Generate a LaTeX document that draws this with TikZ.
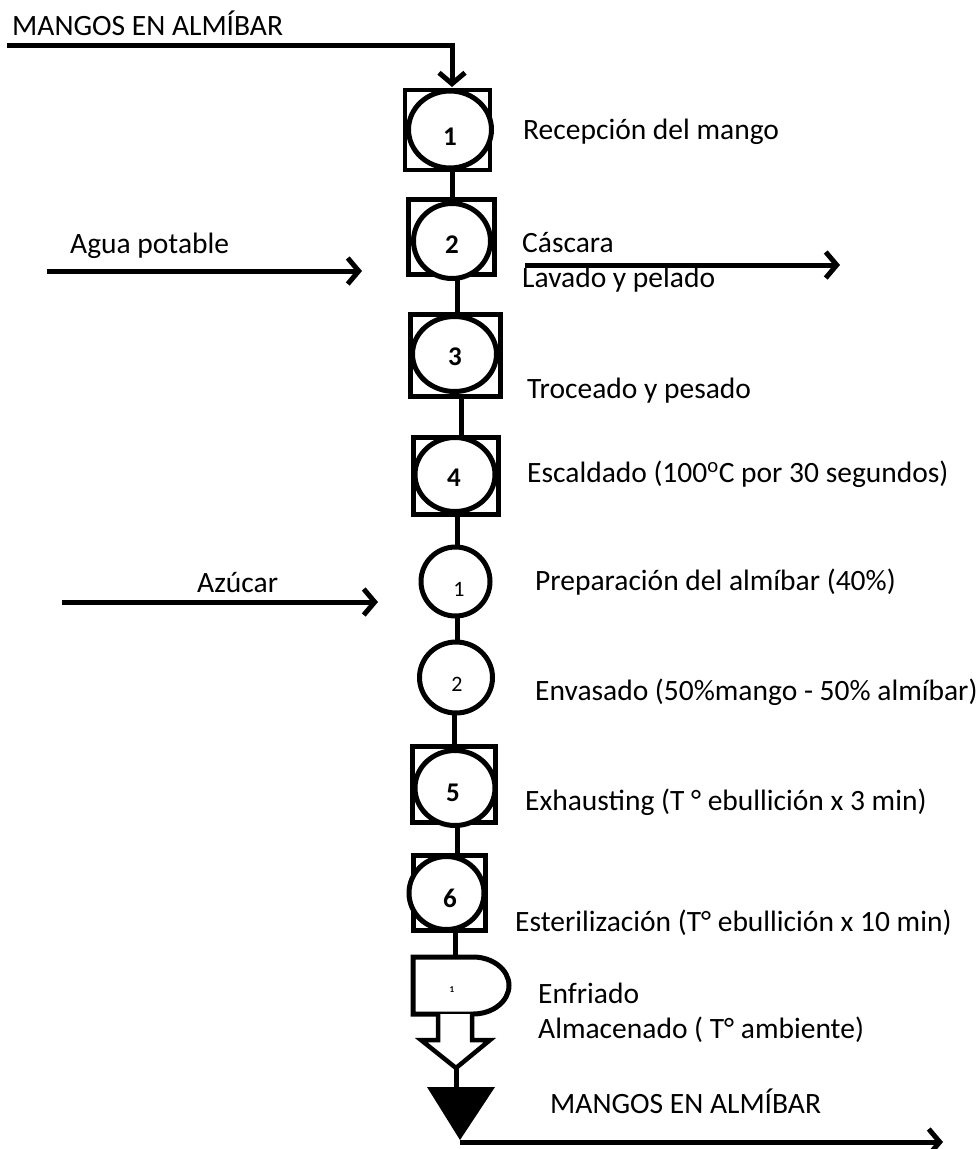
\documentclass[tikz,border=0pt]{standalone}
\usepackage{fontspec}
\setmainfont{Carlito}
\usetikzlibrary{arrows.meta,shapes.geometric}
\begin{document}
\begin{tikzpicture}[x=1pt,y=-1pt,
  box/.style={draw,rectangle,line width=4.5pt,inner sep=0pt},
  circ/.style={draw,line width=5pt,fill=white},
  num/.style={inner sep=0pt,font=\fontsize{27}{30}\selectfont\bfseries},
  snum/.style={inner sep=0pt,font=\fontsize{22}{26}\selectfont},
  txt/.style={anchor=base west,inner sep=0pt,font=\fontsize{29.5}{34}\selectfont},
  flow/.style={line width=5pt,-{Straight Barb[length=11pt,width=26pt]}},
  link/.style={line width=5pt},
]
\useasboundingbox (0,0) rectangle (980,1149);

% connector x positions
\coordinate (k12) at (452,0);
\coordinate (k23) at (457,0);
\coordinate (k34) at (461,0);
\coordinate (k4a) at (457,0);
\coordinate (kab) at (457,0);
\coordinate (kb5) at (454,0);
\coordinate (k56) at (457,0);
\coordinate (k6d) at (455,0);

% operation/inspection boxes
\node[box,minimum width=85pt,minimum height=80pt] (b1) at (447.5,130) {};
\node[box,minimum width=86pt,minimum height=75pt] (b2) at (451.5,237) {};
\node[box,minimum width=90pt,minimum height=82pt] (b3) at (455.5,355.5) {};
\node[box,minimum width=85pt,minimum height=77pt] (b4) at (456,476) {};
\node[box,minimum width=83pt,minimum height=76pt] (b5) at (454,784.5) {};
\node[box,minimum width=72pt,minimum height=75pt] (b6) at (449.5,893) {};

% circle centres
\coordinate (c1) at (450,129.5);
\coordinate (c2) at (452,241);
\coordinate (c3) at (454.5,354);
\coordinate (c4) at (455,474.5);
\coordinate (pa) at (455.5,581.5);
\coordinate (pb) at (456,677.5);
\coordinate (c5) at (455,788);
\coordinate (c6) at (446.5,893);

% connectors
\draw[link] (b1.south -| k12) -- (b2.north -| k12);
\draw[link] (b2.south -| k23) -- (b3.north -| k23);
\draw[link] (b3.south -| k34) -- (b4.north -| k34);
\draw[link] (b4.south -| k4a) -- ([yshift=-36pt]pa -| k4a);
\draw[link] ([yshift=36pt]pa -| kab) -- ([yshift=-36pt]pb -| kab);
\draw[link] ([yshift=36pt]pb -| kb5) -- (b5.north -| kb5);
\draw[link] (b5.south -| k56) -- (b6.north -| k56);

% circles
\draw[circ] (c1) ellipse [x radius=41.5, y radius=38.5];
\draw[circ] (c2) ellipse [x radius=38.5, y radius=37.5];
\draw[circ] (c3) ellipse [x radius=42, y radius=37.5];
\draw[circ] (c4) ellipse [x radius=40, y radius=37];
\draw[circ] (pa) ellipse [x radius=34.5, y radius=34.5];
\draw[circ] (pb) ellipse [x radius=36.5, y radius=35.5];
\draw[circ] (c5) ellipse [x radius=40, y radius=37.5];
\draw[circ] (c6) ellipse [x radius=37.5, y radius=36.5];

% numbers
\node[num] (n1) at (450,137) {1};
\node[num] (n2) at (452,245) {2};
\node[num] (n3) at (455,357) {3};
\node[num] (n4) at (454,478) {4};
\node[snum] (na) at (459,589) {1};
\node[snum] (nb) at (457,684) {2};
\node[num] (n5) at (453,793) {5};
\node[num] (n6) at (450,898) {6};

% storage (D shape)
\coordinate (dtop) at (455,957);
\draw[link] (b6.south -| k6d) -- (dtop);
\draw[line width=5pt,fill=white,line join=miter] (413,957) -- (473,957)
  arc[start angle=-90,end angle=90,x radius=36,y radius=28.5] -- (413,1014) -- cycle;
\node[inner sep=0pt,font=\fontsize{9}{9}\selectfont\bfseries] (nd) at (452,990) {1};

% hollow arrow
\coordinate (htip) at (456,1068);
\draw[line width=4.5pt,fill=white,line join=miter] (438,1014) -- (438,1040) -- (421,1040) -- (htip)
  -- (490,1040) -- (472,1040) -- (472,1014);

% final triangle
\coordinate (ttop) at (456,1089);
\coordinate (tt) at (460,1140);
\draw[link] (htip) -- (ttop);
\fill[black] (427,1087) -- (495,1087) -- (tt) -- cycle;
\coordinate (out1) at (943,1142);
\draw[flow] (tt |- out1) -- (out1);

% inputs / outputs
\coordinate (in0) at (7,45);
\coordinate (in1) at (452,87);
\draw[flow,line join=miter] (in0) -| (in1);
\coordinate (a0) at (47,271);
\coordinate (a1) at (362,271);
\draw[flow] (a0) -- (a1);
\coordinate (s0) at (525,265);
\coordinate (s1) at (840,265);
\draw[flow] (s0) -- (s1);
\coordinate (z0) at (62,602);
\coordinate (z1) at (378,602);
\draw[flow] (z0) -- (z1);

% texts
\node[txt] (t0) at (12,35) {MANGOS EN ALMÍBAR};
\node[txt] (t1) at (523,139) {Recepción del mango};
\node[txt] (t2) at (70,253) {Agua potable};
\node[txt] (t3) at (522,252) {Cáscara};
\node[txt] (t4) at (522,287) {Lavado y pelado};
\node[txt] (t5) at (527,398) {Troceado y pesado};
\node[txt] (t6) at (527,482) {Escaldado (100\textsuperscript{o}C por 30 segundos)};
\node[txt] (t7) at (197,592) {Azúcar};
\node[txt] (t8) at (535,590) {Preparación del almíbar (40\%)};
\node[txt] (t9) at (535,700) {Envasado (50\%mango - 50\% almíbar)};
\node[txt] (t10) at (525,810) {Exhausting (T ° ebullición x 3 min)};
\node[txt] (t11) at (515,931) {Esterilización (T° ebullición x 10 min)};
\node[txt] (t12) at (538,1003) {Enfriado};
\node[txt] (t13) at (538,1038) {Almacenado ( T° ambiente)};
\node[txt] (t14) at (550,1113) {MANGOS EN ALMÍBAR};
\end{tikzpicture}
\end{document}
